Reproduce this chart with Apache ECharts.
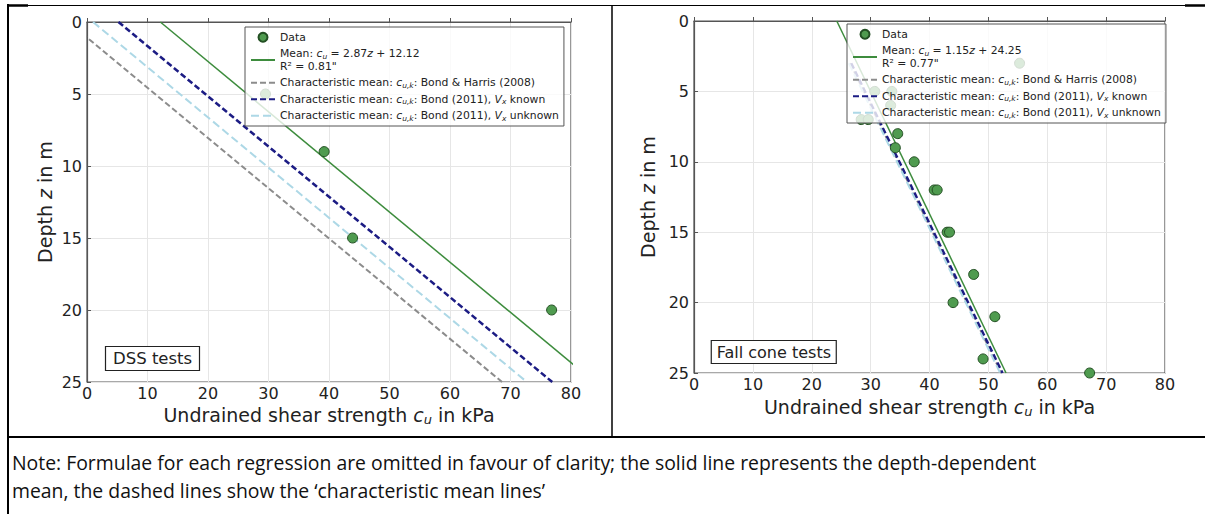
<!DOCTYPE html>
<html>
<head>
<meta charset="utf-8">
<script src="https://cdn.jsdelivr.net/npm/echarts@6/dist/echarts.min.js"></script>
<style>
  html, body { margin: 0; padding: 0; background: #fff; }
  #chart { width: 1205px; height: 514px; }
</style>
</head>
<body>
<div id="chart"></div>
<script>
// Undrained shear strength c_u [kPa] against depth z [m], as [c_u, z]
const dssData = [[29.5, 5], [39.2, 9], [43.9, 15], [76.8, 20]];
const fallConeData = [
  [55.3, 3], [30.7, 5], [33.6, 5], [33.4, 6], [28.4, 7], [29.6, 7],
  [34.6, 8], [34.2, 9], [37.4, 10], [40.8, 12], [41.3, 12], [43.0, 15],
  [43.4, 15], [47.5, 18], [44.0, 20], [51.1, 21], [49.1, 24], [67.2, 25]
];

// Depth-dependent mean: c_u = slope * z + intercept
const dssMeanFit = [2.87, 12.12];
const dssR2 = '0.81';
const fallConeMeanFit = [1.15, 24.25];
const fallConeR2 = '0.77';
const meanDepthRange = [0, 25];

// Characteristic mean lines, end points [c_u, z]
const dssBondHarris = [[-3.1, 0], [68.6, 25]];
const dssBondKnown = [[5.2, 0], [76.9, 25]];
const dssBondUnknown = [[1.0, 0], [72.7, 25]];
const fcBondHarris = [[26.5, 3], [52.2, 25]];
const fcBondKnown = [[26.7, 3], [52.4, 25]];
const fcBondUnknown = [[26.3, 3], [52.0, 25]];

// Axis ranges: [min, max, interval]
const cuAxis = [0, 80, 10];
const depthAxis = [0, 25, 5];

const FONT = 'DejaVu Sans';
const INK = '#222';
const FRAME = '#555';

function meanLine(fit) {
  return meanDepthRange.map(z => [fit[0] * z + fit[1], z]);
}

const legendText = {
  'Data': 'Data',
  'meanDss': 'Mean: {i|c}{s|u} = ' + dssMeanFit[0] + '{i|z} + ' + dssMeanFit[1] + '\nR² = ' + dssR2 + '"',
  'meanFc': 'Mean: {i|c}{s|u} = ' + fallConeMeanFit[0] + '{i|z} + ' + fallConeMeanFit[1] + '\nR² = ' + fallConeR2 + '"',
  'bh': 'Characteristic mean: {i|c}{s|u,k}: Bond & Harris (2008)',
  'known': 'Characteristic mean: {i|c}{s|u,k}: Bond (2011), {i|V}{s|x} known',
  'unknown': 'Characteristic mean: {i|c}{s|u,k}: Bond (2011), {i|V}{s|x} unknown'
};

const LEG_FS = 10.8;
const legendRich = {
  i: { fontFamily: FONT, fontSize: LEG_FS, fontStyle: 'italic', color: INK, lineHeight: 12.5 },
  s: { fontFamily: FONT, fontSize: 7.5, fontStyle: 'italic', color: INK, lineHeight: 6, verticalAlign: 'bottom' }
};

// line entries only show their stroke, no marker
const lineIconStyle = { opacity: 0, borderWidth: 0 };

function legend(left, top, meanName) {
  return {
    orient: 'vertical', left: left, top: top, z: 10,
    data: [
      { name: 'Data' },
      { name: meanName, itemStyle: lineIconStyle },
      { name: 'bh', itemStyle: lineIconStyle },
      { name: 'known', itemStyle: lineIconStyle },
      { name: 'unknown', itemStyle: lineIconStyle }
    ],
    formatter: name => legendText[name],
    itemWidth: 24, itemHeight: 9, itemGap: 4,
    padding: [4, 5, 4, 5],
    backgroundColor: 'rgba(255,255,255,0.8)',
    borderColor: FRAME, borderWidth: 1, borderRadius: 0,
    textStyle: { fontFamily: FONT, fontSize: LEG_FS, color: INK, lineHeight: 12.5, rich: legendRich }
  };
}

const NAME_FS = 19;
const axisNameRich = {
  t: { fontFamily: FONT, fontSize: NAME_FS, color: INK, lineHeight: 22 },
  i: { fontFamily: FONT, fontSize: NAME_FS, fontStyle: 'italic', color: INK, lineHeight: 22 },
  s: { fontFamily: FONT, fontSize: 13, fontStyle: 'italic', color: INK, lineHeight: 11, verticalAlign: 'bottom' }
};

function xAxis(gridIndex, gap) {
  return {
    type: 'value', gridIndex: gridIndex,
    min: cuAxis[0], max: cuAxis[1], interval: cuAxis[2],
    name: '{t|Undrained shear strength }{i|c}{s|u}{t| in kPa}',
    nameLocation: 'middle', nameGap: gap,
    nameTextStyle: { rich: axisNameRich },
    axisLine: { show: true, lineStyle: { color: FRAME, width: 1.2 } },
    axisTick: { show: true, inside: true, length: 4, lineStyle: { color: FRAME } },
    axisLabel: { fontFamily: FONT, fontSize: 16, color: INK, margin: 3 },
    splitLine: { show: true, lineStyle: { color: '#e6e6e6', width: 1 } }
  };
}

function yAxis(gridIndex, gap) {
  return {
    type: 'value', gridIndex: gridIndex, inverse: true,
    min: depthAxis[0], max: depthAxis[1], interval: depthAxis[2],
    name: '{t|Depth }{i|z}{t| in m}',
    nameLocation: 'middle', nameGap: gap,
    nameTextStyle: { rich: axisNameRich },
    axisLine: { show: true, lineStyle: { color: FRAME, width: 1.2 } },
    axisTick: { show: true, inside: true, length: 4, lineStyle: { color: FRAME } },
    axisLabel: { fontFamily: FONT, fontSize: 16, color: INK, margin: 5 },
    splitLine: { show: true, lineStyle: { color: '#e6e6e6', width: 1 } }
  };
}

function scatter(idx, data) {
  return {
    name: 'Data', type: 'scatter', xAxisIndex: idx, yAxisIndex: idx,
    data: data, symbol: 'circle', symbolSize: 10, z: 3,
    itemStyle: { color: '#4f9b4f', borderColor: '#234f23', borderWidth: 1, opacity: 1 }
  };
}

function line(idx, name, data, color, width, dash) {
  return {
    name: name, type: 'line', xAxisIndex: idx, yAxisIndex: idx,
    data: data, symbol: 'none', showSymbol: false, clip: true, z: 2,
    lineStyle: { color: color, width: width, type: dash || 'solid' },
    itemStyle: { color: color }
  };
}

const GREEN = '#3d8c3d', GREY = '#8c8c8c', NAVY = '#1c1c84', LIGHT = '#add8e6';

function seriesFor(idx, data, meanName, fit, bh, known, unknown) {
  return [
    scatter(idx, data),
    line(idx, meanName, meanLine(fit), GREEN, 1.5),
    line(idx, 'bh', bh, GREY, 2, [6, 3]),
    line(idx, 'known', known, NAVY, 2.5, [6, 3]),
    line(idx, 'unknown', unknown, LIGHT, 2, [8, 4])
  ];
}

const chart = echarts.init(document.getElementById('chart'), null, { renderer: 'svg' });

chart.setOption({
  animation: false,
  backgroundColor: '#fff',
  grid: [
    { left: 87, top: 22, width: 484, height: 360, show: true, borderColor: FRAME, borderWidth: 1.2, backgroundColor: 'transparent' },
    { left: 694, top: 21, width: 471, height: 352, show: true, borderColor: FRAME, borderWidth: 1.2, backgroundColor: 'transparent' }
  ],
  xAxis: [xAxis(0, 22), xAxis(1, 23)],
  yAxis: [yAxis(0, 31), yAxis(1, 35)],
  legend: [legend(245, 27, 'meanDss'), legend(847, 24, 'meanFc')],
  title: [
    {
      text: 'DSS tests', left: 105, top: 346, padding: [4, 8, 4, 8],
      borderColor: INK, borderWidth: 1.2, backgroundColor: '#fff',
      textStyle: { fontFamily: FONT, fontSize: 16.5, fontWeight: 'normal', color: INK }
    },
    {
      text: 'Fall cone tests', right: 368, top: 340, padding: [4, 6, 4, 6],
      borderColor: INK, borderWidth: 1.2, backgroundColor: '#fff',
      textStyle: { fontFamily: FONT, fontSize: 16, fontWeight: 'normal', color: INK }
    }
  ],
  series: [].concat(
    seriesFor(0, dssData, 'meanDss', dssMeanFit, dssBondHarris, dssBondKnown, dssBondUnknown),
    seriesFor(1, fallConeData, 'meanFc', fallConeMeanFit, fcBondHarris, fcBondKnown, fcBondUnknown)
  ),
  graphic: [
    // table rules
    { type: 'line', shape: { x1: 8, y1: 5.5, x2: 1205, y2: 5.5 }, style: { stroke: '#000', lineWidth: 1.2 } },
    { type: 'line', shape: { x1: 8, y1: 5.5, x2: 28, y2: 5.5 }, style: { stroke: '#000', lineWidth: 2.5 } },
    { type: 'line', shape: { x1: 1185, y1: 5.5, x2: 1205, y2: 5.5 }, style: { stroke: '#000', lineWidth: 2.5 } },
    { type: 'line', shape: { x1: 8, y1: 4, x2: 8, y2: 514 }, style: { stroke: '#000', lineWidth: 2 } },
    { type: 'line', shape: { x1: 612, y1: 5, x2: 612, y2: 437 }, style: { stroke: '#000', lineWidth: 1.5 } },
    { type: 'line', shape: { x1: 8, y1: 437, x2: 1205, y2: 437 }, style: { stroke: '#000', lineWidth: 2 } },
    {
      type: 'text', left: 12, top: 448,
      style: {
        text: 'Note: Formulae for each regression are omitted in favour of clarity; the solid line represents the depth-dependent\nmean, the dashed lines show the \u2018characteristic mean lines\u2019',
        fontFamily: 'Open Sans', fontSize: 19.4, lineHeight: 28, fill: '#111'
      }
    }
  ]
});
</script>
</body>
</html>
